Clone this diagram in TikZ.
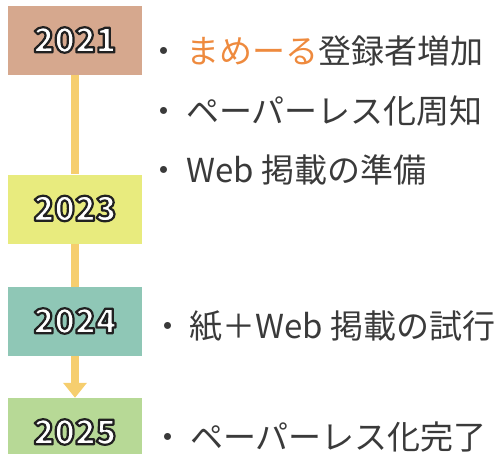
\documentclass[tikz,border=0pt]{standalone}
\usepackage{fontspec}
\setmainfont{Noto Sans CJK JP}
\usetikzlibrary{arrows.meta}

\definecolor{box21}{HTML}{D6A88E}
\definecolor{box23}{HTML}{E8EB7E}
\definecolor{box24}{HTML}{8FC7B6}
\definecolor{box25}{HTML}{B7D996}
\definecolor{linkyellow}{HTML}{F6CE6E}
\definecolor{mameorange}{HTML}{EE8A3E}
\definecolor{itemgray}{HTML}{3A3A3A}

\newcommand{\yearfont}{\fontsize{34}{36}\selectfont\bfseries}
\newcommand{\itemfont}{\fontsize{33}{38}\selectfont}
% white digits with a dark rim (fill, then stroke)
\newcommand{\outlined}[1]{%
  \raisebox{1.5pt}{\color{white}\special{pdf:literal direct q 0.13 0.13 0.13 RG 2 Tr 2.2 w 1 j}%
   #1\special{pdf:literal direct Q}}}

\begin{document}
\begin{tikzpicture}[x=1pt,y=-1pt,
   yearbox/.style={minimum width=134pt,minimum height=69pt,inner sep=0pt,font=\yearfont},
   item/.style={anchor=west,inner sep=0pt,text=itemgray,font=\itemfont},
   link/.style={draw=linkyellow,line width=8pt}]
   \useasboundingbox (0,0) rectangle (503,453);
   % years
   \node[yearbox,fill=box21] (y2021) at (75,40.5)  {\outlined{2021}};
   \node[yearbox,fill=box23] (y2023) at (75,209)   {\outlined{2023}};
   \node[yearbox,fill=box24] (y2024) at (75,321.5) {\outlined{2024}};
   \node[yearbox,fill=box25] (y2025) at (75,432.5) {\outlined{2025}};
   \draw[link] (y2021) -- (y2023);
   \draw[link] (y2023) -- (y2024);
   \draw[link,-{Triangle[width=23pt,length=15pt]}] (y2024) -- (y2025);
   % items
   \node[item] (i2021a) at (147,51)
    {・\hspace{6pt}\textcolor{mameorange}{まめーる}登録者増加};
   \node[item] (i2021b) at (147,111) {・\hspace{6pt}ペーパーレス化周知};
   \node[item] (i2021c) at (147,170) {・\hspace{6pt}Web 掲載の準備};
   \node[item] (i2024)  at (151,326) {・\hspace{5pt}紙＋Web 掲載の試行};
   \node[item] (i2025)  at (151,437) {・\hspace{6pt}ペーパーレス化完了};
\end{tikzpicture}
\end{document}
